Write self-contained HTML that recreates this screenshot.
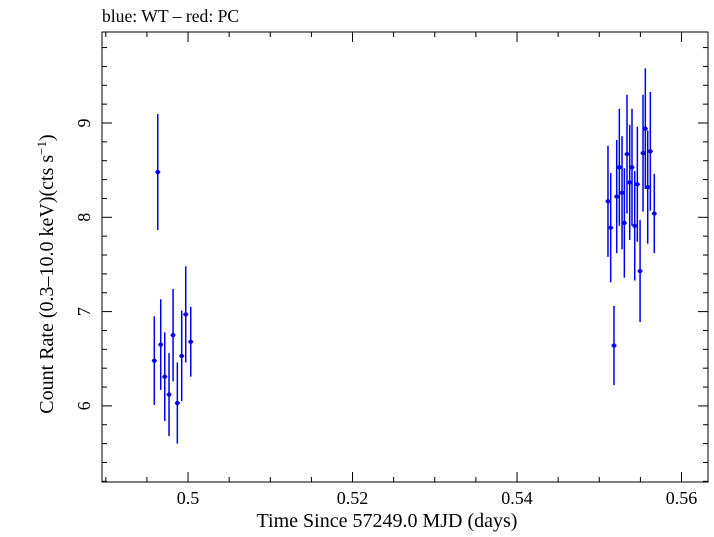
<!DOCTYPE html>
<html><head><meta charset="utf-8"><style>
body{margin:0;background:#fff;width:714px;height:532px;overflow:hidden}
svg text{font-family:"Liberation Serif",serif;fill:#000}
</style></head><body>
<svg id="c" width="714" height="532">
<text x="102" y="22" font-size="17.6">blue: WT – red: PC</text>
<rect x="102" y="32" width="606" height="450" fill="none" stroke="#000" stroke-width="1"/>
<g id="ticks"></g>
<g id="pts"></g>
<text x="387" y="527" font-size="20" text-anchor="middle">Time Since 57249.0 MJD (days)</text>
<text transform="translate(53,274) rotate(-90)" font-size="20" text-anchor="middle">Count Rate (0.3–10.0 keV)(cts s<tspan baseline-shift="super" font-size="13">−1</tspan>)</text>
</svg>
<script>
const times=[0.49632,0.49590,0.49668,0.49717,0.49769,0.49818,0.49870,0.49923,0.49972,0.50033,0.55106,0.55139,0.55179,0.55212,0.55244,0.55277,0.55305,0.55337,0.55370,0.55398,0.55431,0.55463,0.55496,0.55532,0.55560,0.55589,0.55621,0.55669];
const rates=[8.48,6.48,6.65,6.31,6.12,6.75,6.03,6.53,6.97,6.68,8.17,7.89,6.64,8.22,8.53,8.26,7.94,8.67,8.37,8.53,7.91,8.35,7.43,8.68,8.94,8.32,8.70,8.04];
const errs=[0.615,0.47,0.48,0.47,0.44,0.49,0.43,0.48,0.51,0.37,0.59,0.58,0.42,0.60,0.62,0.60,0.58,0.63,0.61,0.62,0.58,0.61,0.54,0.62,0.64,0.60,0.63,0.42];
const xTicks=[0.5,0.52,0.54,0.56];
const yTicks=[6,7,8,9];
const X0=0.48954,X1=0.56322,Y0=5.193,Y1=9.965;
const L=102,R=708,T=32,B=482;
const sx=v=>L+(v-X0)/(X1-X0)*(R-L);
const sy=v=>B-(v-Y0)/(Y1-Y0)*(B-T);
const NS='http://www.w3.org/2000/svg';
function mk(tag,attrs,parent){const e=document.createElementNS(NS,tag);for(const k in attrs)e.setAttribute(k,attrs[k]);parent.appendChild(e);return e;}
const tg=document.getElementById('ticks');
for(let v=0.49;v<=0.5635;v+=0.005){const x=sx(v);if(x<L||x>R)continue;const major=xTicks.some(t=>Math.abs(t-v)<1e-6);const len=major?10:5;
const a=mk('line',{x1:x,x2:x,y1:B,y2:B-len,stroke:'#000'},tg);


const b=mk('line',{x1:x,x2:x,y1:T,y2:T+len,stroke:'#000'},tg);

}
xTicks.forEach(v=>{const t=mk('text',{x:sx(v),y:504,'font-size':18,'text-anchor':'middle'},tg);t.textContent=String(v);

});
for(let v=5.2;v<=9.96;v+=0.2){const y=sy(v);const major=yTicks.some(t=>Math.abs(t-v)<1e-6);const len=major?10:5;
const a=mk('line',{x1:L,x2:L+len,y1:y,y2:y,stroke:'#000'},tg);


const b=mk('line',{x1:R,x2:R-len,y1:y,y2:y,stroke:'#000'},tg);

}
yTicks.forEach(v=>{const t=mk('text',{transform:`translate(90,${sy(v)}) rotate(-90)`,'font-size':18,'text-anchor':'middle'},tg);t.textContent=String(v);

});
const pg=document.getElementById('pts');
times.forEach((t,i)=>{const x=sx(t),y=sy(rates[i]);
const g=mk('g',{},pg);


mk('line',{x1:x,x2:x,y1:sy(rates[i]+errs[i]),y2:sy(rates[i]-errs[i]),stroke:'#0000ee','stroke-width':1.5},g);
mk('line',{x1:x-2.5,x2:x+2.5,y1:y,y2:y,stroke:'#0000ee','stroke-width':1.5},g);
mk('circle',{cx:x,cy:y,r:2.2,fill:'#0000ee'},g);});
</script>
</body></html>
